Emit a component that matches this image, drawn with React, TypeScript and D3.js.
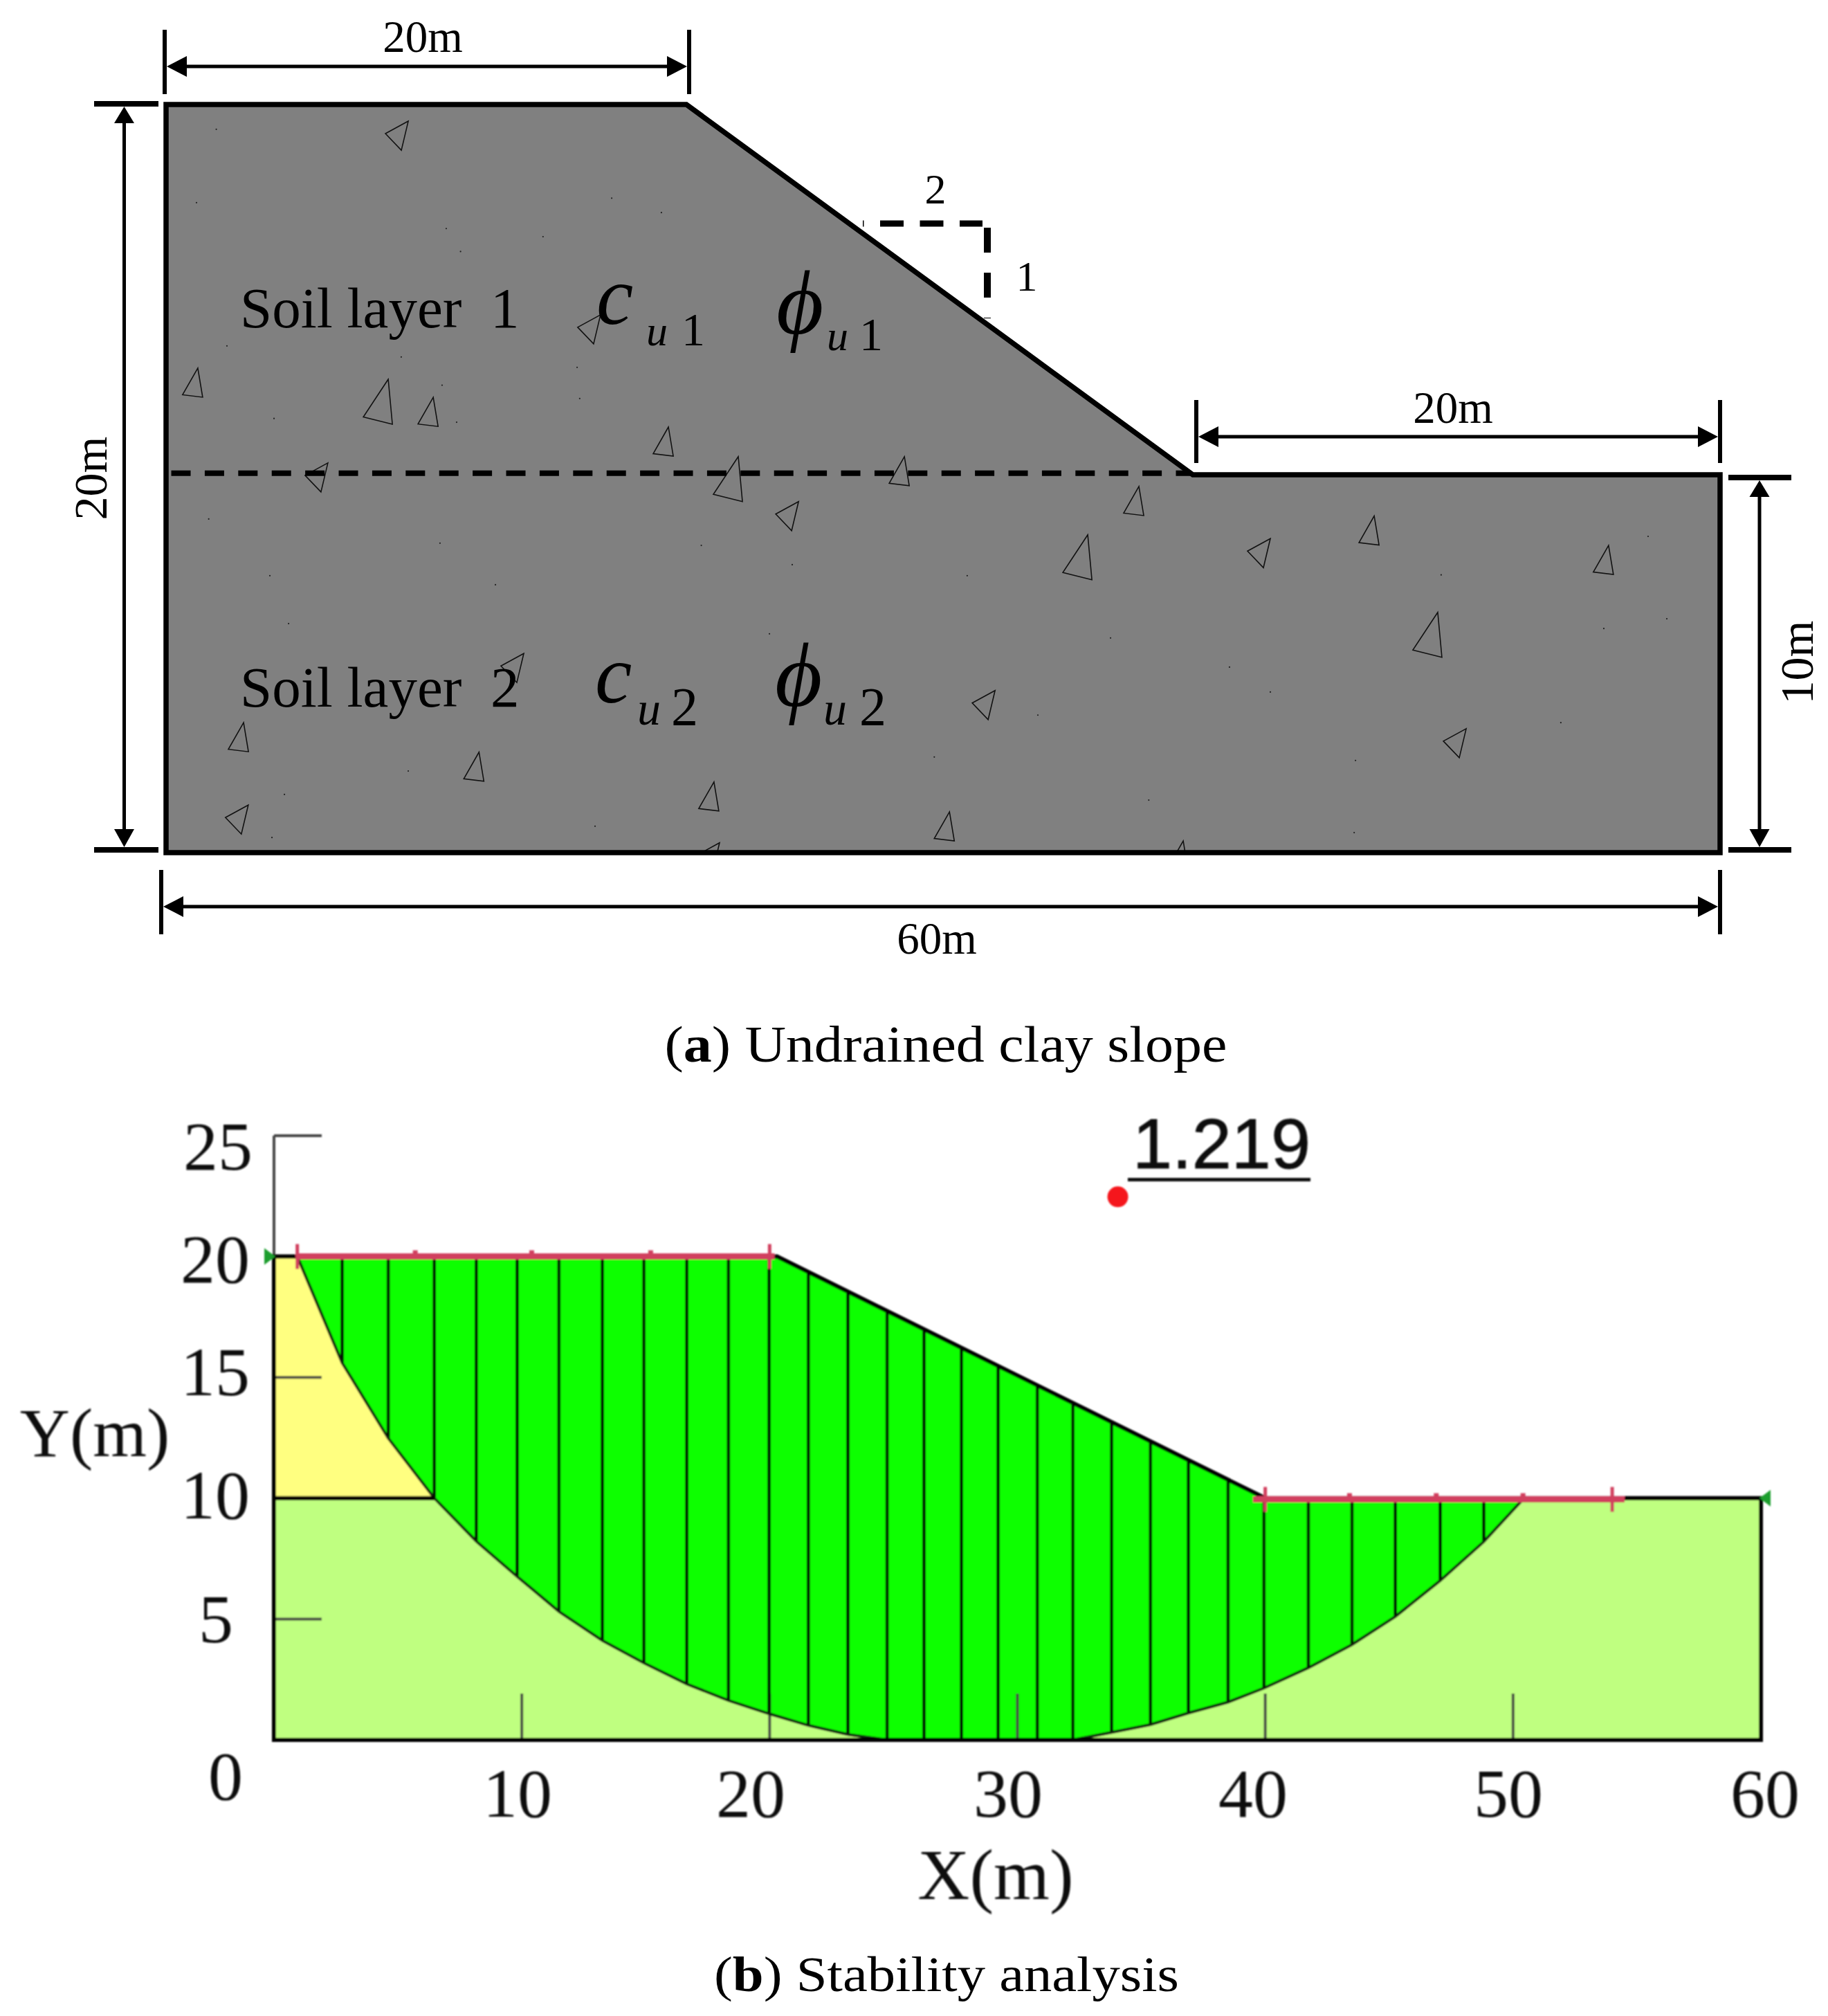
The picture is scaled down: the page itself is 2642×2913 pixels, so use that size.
import * as d3 from "d3";

// ---------- panel (a): geometry in metres ----------
const profileX = [0, 0, 20, 40, 60, 60];
const profileY = [0, 20, 20, 10, 10, 0];
const layerBoundaryY = 10.04;

const dimFrom = [0, 40, 0];
const dimTo = [20, 60, 60];
const dimLabels = ["20m", "20m", "60m"];
const vDimFrom = [0, 0];
const vDimTo = [20, 10];
const vDimLabels = ["20m", "10m"];

const soilLabels = ["Soil layer  1", "Soil layer  2"];
const subLabels = ["1", "2"];

// rocks: top vertex in metres, kind 0 upright, 1 pointing left, 2 large upright
const rockX = [9.31, 1.22, 8.54, 10.27, 16.7, 19.31, 6.22, 22.05, 28.61, 24.43, 13.75, 2.98, 12.03, 21.09, 3.16, 21.31, 37.87, 35.85, 42.94, 46.88, 55.77, 49.29, 32.19, 50.37, 30.39, 39.62];
const rockY = [19.55, 12.88, 12.58, 12.09, 14.32, 11.29, 10.32, 10.49, 10.49, 9.29, 5.27, 3.44, 2.66, 1.87, 1.26, 0.26, 9.69, 8.41, 8.31, 8.91, 8.13, 6.36, 4.29, 3.28, 1.08, 0.31];
const rockKind = [1, 0, 2, 0, 1, 0, 1, 2, 0, 1, 1, 0, 0, 0, 1, 1, 0, 2, 1, 0, 0, 2, 1, 1, 0, 0];

const speckX = [1.93, 1.17, 17.13, 19.04, 10.77, 14.49, 11.32, 2.34, 9.04, 10.61, 4.15, 11.17, 15.9, 15.8, 1.64, 10.53, 20.59, 24.18, 3.99, 12.66, 4.71, 23.28, 9.31, 4.55, 16.49, 4.07, 31.09, 36.75, 41.39, 33.88, 49.42, 57.27, 57.98, 55.59, 53.96, 46.17, 38.26, 46.12, 29.79, 42.94];
const speckY = [19.33, 17.35, 17.47, 17.08, 16.65, 16.43, 16.03, 13.48, 13.18, 12.42, 11.52, 11.42, 12.06, 12.9, 8.83, 8.19, 8.13, 7.62, 7.33, 7.09, 6.06, 5.79, 2.16, 1.54, 0.7, 0.4, 7.33, 5.68, 4.91, 3.64, 7.35, 8.37, 6.19, 5.93, 3.44, 2.44, 1.39, 0.53, 2.53, 4.25];

// ---------- panel (b): stability analysis ----------
const xTicks = [10, 20, 30, 40, 50];
const yTicks = [5, 10, 15, 20, 25];
const xTickLabels = ["10", "20", "30", "40", "50", "60"];
const yTickLabels = ["5", "10", "15", "20", "25"];

const groundX = [0, 20.3, 40, 60];
const groundY = [20, 20, 10, 10];

const slipX = [0.94, 2.75, 4.61, 6.47, 8.16, 9.81, 11.5, 13.25, 14.93, 16.66, 18.34, 19.98, 21.56, 23.16, 24.74, 26.23, 27.74, 29.22, 30.8, 32.24, 33.8, 35.37, 36.9, 38.5, 39.95, 41.74, 43.5, 45.25, 47.06, 48.82, 50.44];
const slipY = [20, 15.6, 12.48, 10, 8.22, 6.76, 5.31, 4.11, 3.18, 2.31, 1.63, 1.08, 0.6, 0.22, 0, 0, 0, 0, 0, 0, 0.31, 0.63, 1.11, 1.56, 2.14, 2.98, 3.94, 5.1, 6.59, 8.2, 10];

const loadFromX = [0.94, 39.5];
const loadToX = [20.2, 54.5];
const loadY = [20, 9.95];
const loadBarX = [[0.94, 20], [40, 54]];
const loadKnobX = [[5.7, 10.4, 15.2], [43.4, 46.9, 50.4]];

const factorOfSafety = "1.219";
const centreX = 34.05;
const centreY = 22.47;

// ---------- scales ----------
const ax = d3.scaleLinear().domain([0, 20, 40, 60]).range([240, 992, 1724, 2486]);
const ay = d3.scaleLinear().domain([0, 10, 20]).range([1232, 686, 151]);
const bx = d3.scaleLinear().domain([0, 60]).range([396, 2545]);
const by = d3.scaleLinear().domain([0, 25]).range([2514, 1641]);
const groundAt = d3.scaleLinear().domain(groundX).range(groundY);

const serif = "'Liberation Serif', serif";
const BLACK = "#000";

const rockShapes = [
  [[0, 0], [-22, 38.5], [7, 42]],
  [[0, 0], [-33, 18], [-10, 42]],
  [[0, 0], [-36, 54.5], [6, 65]],
];

const pathA = d3.line<[number, number]>().x((d) => ax(d[0])).y((d) => ay(d[1]));
const pathB = d3.line<[number, number]>().x((d) => bx(d[0])).y((d) => by(d[1]));
const zip = (xs: number[], ys: number[]) => xs.map((x, i) => [x, ys[i]] as [number, number]);

// horizontal dimension layout, px
const hLayout = [
  { line: 96, top: 43, bottom: 136, base: 75, cx: 611, nudgeL: -2, nudgeR: 4 },
  { line: 631, top: 578, bottom: 669, base: 611, cx: 2100, nudgeL: 5, nudgeR: 0 },
  { line: 1310, top: 1257, bottom: 1350, base: 1378, cx: 1354, nudgeL: -7, nudgeR: 0 },
];
const vLayout = [
  { line: 179.5, left: 136, right: 229, nudgeB: -4, nudgeT: -1, labelX: 154, labelY: 691 },
  { line: 2543, left: 2498, right: 2589, nudgeB: -4, nudgeT: 4, labelX: 2620, labelY: 957 },
];

function HorizontalDim({ i }: { i: number }) {
  const l = hLayout[i];
  const x1 = ax(dimFrom[i]) + l.nudgeL;
  const x2 = ax(dimTo[i]) + l.nudgeR;
  return (
    <g>
      <line x1={x1} x2={x1} y1={l.top} y2={l.bottom} stroke={BLACK} strokeWidth={6} />
      <line x1={x2} x2={x2} y1={l.top} y2={l.bottom} stroke={BLACK} strokeWidth={6} />
      <line x1={x1 + 10} x2={x2 - 10} y1={l.line} y2={l.line} stroke={BLACK} strokeWidth={5} />
      <polygon points={`${x1 + 3},${l.line} ${x1 + 32},${l.line - 15} ${x1 + 32},${l.line + 15}`} fill={BLACK} />
      <polygon points={`${x2 - 3},${l.line} ${x2 - 32},${l.line - 15} ${x2 - 32},${l.line + 15}`} fill={BLACK} />
      <text x={l.cx} y={l.base} fontFamily={serif} fontSize={65} textAnchor="middle">
        {dimLabels[i]}
      </text>
    </g>
  );
}

function VerticalDim({ i }: { i: number }) {
  const l = vLayout[i];
  const y1 = ay(vDimFrom[i]) + l.nudgeB;
  const y2 = ay(vDimTo[i]) + l.nudgeT;
  return (
    <g>
      <line x1={l.left} x2={l.right} y1={y1} y2={y1} stroke={BLACK} strokeWidth={8} />
      <line x1={l.left} x2={l.right} y1={y2} y2={y2} stroke={BLACK} strokeWidth={8} />
      <line x1={l.line} x2={l.line} y1={y2 + 10} y2={y1 - 10} stroke={BLACK} strokeWidth={5} />
      <polygon points={`${l.line},${y2 + 4} ${l.line - 14.5},${y2 + 28} ${l.line + 14.5},${y2 + 28}`} fill={BLACK} />
      <polygon points={`${l.line},${y1 - 4} ${l.line - 14.5},${y1 - 30} ${l.line + 14.5},${y1 - 30}`} fill={BLACK} />
      <text
        transform={`translate(${l.labelX},${l.labelY}) rotate(-90)`}
        fontFamily={serif}
        fontSize={68}
        textAnchor="middle"
      >
        {vDimLabels[i]}
      </text>
    </g>
  );
}

function Symbols({ i }: { i: number }) {
  // c_u and phi_u per soil layer, hand placed like the source figure
  const p = [
    { c: 862, cBase: 468, u1: 934, uSize: 62, sub1: 985, subSize: 68, subBase: 499, phi: 1122, phiBase: 482, u2: 1195, sub2: 1242, subBase2: 506 },
    { c: 860, cBase: 1015, u1: 921, uSize: 68, sub1: 970, subSize: 78, subBase: 1047, phi: 1120, phiBase: 1020, u2: 1190, sub2: 1242, subBase2: 1047 },
  ][i];
  return (
    <g fontFamily={serif} fill={BLACK}>
      <text x={p.c} y={p.cBase} fontSize={120} fontStyle="italic">c</text>
      <text x={p.u1} y={p.subBase} fontSize={p.uSize} fontStyle="italic">u</text>
      <text x={p.sub1} y={p.subBase} fontSize={p.subSize}>{subLabels[i]}</text>
      <text x={p.phi} y={p.phiBase} fontSize={132} fontStyle="italic">ϕ</text>
      <text x={p.u2} y={p.subBase2} fontSize={p.uSize} fontStyle="italic">u</text>
      <text x={p.sub2} y={p.subBase2} fontSize={p.subSize}>{subLabels[i]}</text>
    </g>
  );
}

export default function App() {
  const profile = zip(profileX, profileY);
  const slip = zip(slipX, slipY);

  const bProfile = zip([0, 0, 20.3, 40, 60, 60], [0, 20, 20, 10, 10, 0]);
  const yellow = [[0, 20] as [number, number], ...slip.filter((d) => d[0] <= 6.47), [0, 10] as [number, number]];
  const sliding = [
    ...slip,
    [40, 10] as [number, number],
    [20.3, 20] as [number, number],
  ];

  return (
    <svg
      width={2642}
      height={2913}
      viewBox="0 0 2642 2913"
      style={{ position: "absolute", left: 0, top: 0, display: "block", background: "#fff" }}
    >
      <defs>
        <clipPath id="soil">
          <path d={pathA(profile) + "Z"} />
        </clipPath>
        <filter id="soft" filterUnits="userSpaceOnUse" x={0} y={1560} width={2642} height={1260}>
          <feGaussianBlur stdDeviation={0.9} />
        </filter>
      </defs>

      {/* panel (a) */}
      <path d={pathA(profile) + "Z"} fill="#808080" />
      <g clipPath="url(#soil)">
        {rockX.map((x, i) => (
          <polygon
            key={i}
            points={rockShapes[rockKind[i]].map((v) => `${ax(x) + v[0]},${ay(rockY[i]) + v[1]}`).join(" ")}
            fill="none"
            stroke="#111"
            strokeWidth={1.6}
          />
        ))}
        {speckX.map((x, i) => (
          <circle key={i} cx={ax(x)} cy={ay(speckY[i])} r={1.1} fill="#222" />
        ))}
      </g>

      <text x={347} y={473} fontFamily={serif} fontSize={83} style={{ whiteSpace: "pre" }}>{soilLabels[0]}</text>
      <text x={347} y={1021} fontFamily={serif} fontSize={83} style={{ whiteSpace: "pre" }}>{soilLabels[1]}</text>
      <Symbols i={0} />
      <Symbols i={1} />

      <line
        x1={ax(0.2)}
        x2={ax(39.9)}
        y1={ay(layerBoundaryY)}
        y2={ay(layerBoundaryY)}
        stroke={BLACK}
        strokeWidth={8}
        strokeDasharray="28 20.4"
      />
      <path d={pathA(profile) + "Z"} fill="none" stroke={BLACK} strokeWidth={7.5} />

      {/* 2:1 slope mark */}
      <line x1={1247} x2={1420} y1={323} y2={323} stroke={BLACK} strokeWidth={9} strokeDasharray="34 23.5" strokeDashoffset={32.5} />
      <line x1={1427} x2={1427} y1={329} y2={460} stroke={BLACK} strokeWidth={10} strokeDasharray="36 29" />
      <text x={1352} y={294} fontFamily={serif} fontSize={62} textAnchor="middle">2</text>
      <text x={1484} y={420} fontFamily={serif} fontSize={62} textAnchor="middle">1</text>

      {dimLabels.map((_, i) => <HorizontalDim key={i} i={i} />)}
      {vDimLabels.map((_, i) => <VerticalDim key={i} i={i} />)}

      <text x={1367} y={1534} fontFamily={serif} fontSize={74} textAnchor="middle" textLength={813} lengthAdjust="spacingAndGlyphs">
        (<tspan fontWeight="bold">a</tspan>) Undrained clay slope
      </text>

      {/* panel (b), the source is a soft screenshot */}
      <g filter="url(#soft)">
        <path d={pathB(bProfile) + "Z"} fill="#bfff80" />
        <path d={pathB(yellow) + "Z"} fill="#ffff80" />
        <path d={pathB(sliding) + "Z"} fill="#10ff00" />

        {/* axis ticks, inward */}
        <line x1={bx(0)} x2={bx(0)} y1={by(25)} y2={by(20)} stroke="#444" strokeWidth={4} />
        {yTicks.map((t) => (
          <line key={t} x1={bx(0)} x2={bx(0) + 69} y1={by(t)} y2={by(t)} stroke="#444" strokeWidth={4} />
        ))}
        {xTicks.map((t) => (
          <line key={t} x1={bx(t)} x2={bx(t)} y1={by(0)} y2={by(0) - 67} stroke="#444" strokeWidth={4} />
        ))}

        {/* slices */}
        {slipX.slice(1, -1).map((x, i) => (
          <line key={i} x1={bx(x)} x2={bx(x)} y1={by(slipY[i + 1])} y2={by(groundAt(x))} stroke="#000" strokeWidth={4.5} />
        ))}
        <path d={pathB(slip)!} fill="none" stroke="#0c2208" strokeWidth={4} />

        <path d={pathB(bProfile) + "Z"} fill="none" stroke="#000" strokeWidth={6} />
        <line x1={bx(0)} x2={bx(6.47)} y1={by(10)} y2={by(10)} stroke="#000" strokeWidth={6} />

        {/* loads on the crest and the toe */}
        {loadFromX.map((x, i) => (
          <g key={i} stroke="#d1405f" strokeWidth={9}>
            <line x1={bx(x)} x2={bx(loadToX[i])} y1={by(loadY[i])} y2={by(loadY[i])} />
            {loadBarX[i].map((b) => (
              <line key={b} x1={bx(b)} x2={bx(b)} y1={by(loadY[i]) - 18} y2={by(loadY[i]) + 18} strokeWidth={5} />
            ))}
            {loadKnobX[i].map((k) => (
              <line key={k} x1={bx(k)} x2={bx(k)} y1={by(loadY[i]) - 9} y2={by(loadY[i])} strokeWidth={7} />
            ))}
          </g>
        ))}
        <polygon points={`${bx(0) + 2},${by(20)} ${bx(0) - 14},${by(20) - 12} ${bx(0) - 14},${by(20) + 12}`} fill="#1f9e2e" />
        <polygon points={`${bx(60) - 2},${by(10)} ${bx(60) + 14},${by(10) - 12} ${bx(60) + 14},${by(10) + 12}`} fill="#1f9e2e" />

        {/* tick labels sit off the ticks in the source */}
        <g fontFamily={serif} fontSize={100} fill="#111" textAnchor="middle">
          {yTickLabels.map((l, i) => (
            <text key={l} x={[312, 311, 311, 311, 315][i]} y={[2373, 2194, 2016, 1853, 1690][i]}>{l}</text>
          ))}
          {xTickLabels.map((l, i) => (
            <text key={l} x={[748, 1085, 1457, 1811, 2180, 2551][i]} y={2625}>{l}</text>
          ))}
          <text x={326} y={2600}>0</text>
          <text x={137} y={2104}>Y(m)</text>
          <text x={1439} y={2744} fontSize={104}>X(m)</text>
        </g>

        <text x={1637} y={1688} fontFamily="'Liberation Sans', sans-serif" fontSize={102} fill="#111" stroke="#111" strokeWidth={1} textLength={257} lengthAdjust="spacingAndGlyphs">
          {factorOfSafety}
        </text>
        <line x1={1630} x2={1894} y1={1704.5} y2={1704.5} stroke="#111" strokeWidth={5} />
        <circle cx={bx(centreX)} cy={by(centreY)} r={15} fill="#f5141e" />
      </g>

      <text x={1368} y={2877} fontFamily={serif} fontSize={72} textAnchor="middle" textLength={672} lengthAdjust="spacingAndGlyphs">
        (<tspan fontWeight="bold">b</tspan>) Stability analysis
      </text>
    </svg>
  );
}
